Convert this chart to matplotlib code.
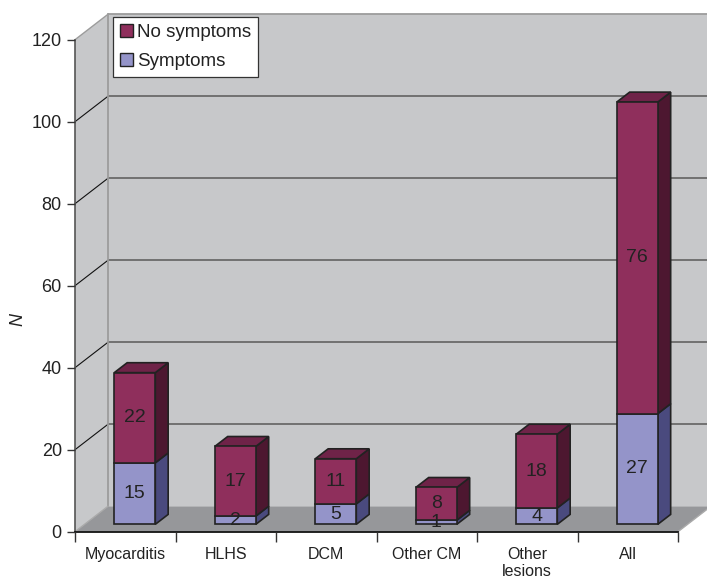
import matplotlib
matplotlib.use("Agg")
import matplotlib.pyplot as plt
from matplotlib.patches import Polygon, Patch
import numpy as np

plt.rcParams['font.family'] = ['Liberation Sans', 'DejaVu Sans']

categories = ["Myocarditis", "HLHS", "DCM", "Other CM", "Other\nlesions", "All"]
symptoms = [15, 2, 5, 1, 4, 27]
no_symptoms = [22, 17, 11, 8, 18, 76]
y_ticks = [0, 20, 40, 60, 80, 100, 120]

# colours: front / side / top faces
sym_front, sym_side, sym_top = "#9494C9", "#4A4A7E", "#6C6CA6"
nos_front, nos_side, nos_top = "#8F2F5C", "#4D1730", "#6F2348"
wall_col, floor_col = "#C7C8CA", "#96979A"
edge_col = "#222222"

fig = plt.figure(figsize=(7.07, 5.81), dpi=100)
W, H = 707, 581
ax = fig.add_axes([75 / W, (H - 531.7) / H, 603 / W, 492 / H])
n = len(categories)
x0, x1 = -0.5, n - 0.5
ymax = 120
ax.set_xlim(x0, x1)
ax.set_ylim(0, ymax)
ax.patch.set_visible(False)

# depth of the 3-D box, in data units
DX, DY = 0.328, 6.2
f0, fd = 0.29, 0.39     # bar front offset and bar depth (fractions of box depth)
bw = 0.408              # bar width

def poly(pts, fc, ec="none", lw=0.0, z=0.5):
    p = Polygon(pts, closed=True, facecolor=fc, edgecolor=ec, linewidth=lw,
                zorder=z, clip_on=False, joinstyle="miter")
    ax.add_patch(p)
    return p

# walls and floor
poly([(x0 + DX, DY), (x1 + DX, DY), (x1 + DX, ymax + DY), (x0 + DX, ymax + DY)], wall_col, z=0.1)
poly([(x0, 0), (x0 + DX, DY), (x0 + DX, ymax + DY), (x0, ymax)], wall_col, z=0.1)
poly([(x0, 0), (x1, 0), (x1 + DX, DY), (x0 + DX, DY)], floor_col, z=0.2)

# gridlines on back and side walls
for yv in y_ticks:
    if yv == 0:
        continue
    top = yv == ymax
    ax.plot([x0 + DX, x1 + DX], [yv + DY, yv + DY], color="#9C9C9C" if top else "#6A6A6A",
            lw=1.3, zorder=0.3, clip_on=False, solid_capstyle="butt")
    ax.plot([x0, x0 + DX], [yv, yv + DY], color="#9C9C9C" if top else "#111111",
            lw=1.0 if top else 0.8, zorder=0.3, clip_on=False)
ax.plot([x0 + DX, x0 + DX], [DY, ymax + DY], color="#9C9C9C", lw=1.3, zorder=0.3, clip_on=False)
ax.plot([x0, x0 + DX], [0, DY], color="#AAAAAA", lw=1.0, zorder=0.3, clip_on=False)
ax.plot([x1, x1 + DX], [0, DY], color="#AAAAAA", lw=1.0, zorder=0.3, clip_on=False)

# stacked bars: front faces via ax.bar, side and top faces as polygons
xs = np.arange(n) + f0 * DX
base = f0 * DY
sym = np.array(symptoms, float)
nos = np.array(no_symptoms, float)
ax.bar(xs, sym, width=bw, bottom=base, color=sym_front, edgecolor=edge_col, lw=1.2, zorder=3)
ax.bar(xs, nos, width=bw, bottom=base + sym, color=nos_front, edgecolor=edge_col, lw=1.2, zorder=3)

ddx, ddy = fd * DX, fd * DY
for i in range(n):
    xl, xr = xs[i] - bw / 2, xs[i] + bw / 2
    segs = [(base, base + sym[i], sym_side), (base + sym[i], base + sym[i] + nos[i], nos_side)]
    for ya, yb, c in segs:
        poly([(xr, ya), (xr + ddx, ya + ddy), (xr + ddx, yb + ddy), (xr, yb)], c,
             ec=edge_col, lw=1.2, z=2.9)
    yt = base + sym[i] + nos[i]
    poly([(xl, yt), (xr, yt), (xr + ddx, yt + ddy), (xl + ddx, yt + ddy)], nos_top,
         ec=edge_col, lw=1.2, z=2.9)
    ax.text(xs[i], base + sym[i] / 2, f"{symptoms[i]}", ha="center", va="center",
            fontsize=14, color="#222222", zorder=5)
    ax.text(xs[i], base + sym[i] + nos[i] / 2, f"{no_symptoms[i]}", ha="center", va="center",
            fontsize=14, color="#222222", zorder=5)

# axes
for s in ["top", "right"]:
    ax.spines[s].set_visible(False)
ax.spines["left"].set_color("#555555")
ax.spines["left"].set_linewidth(1.2)
ax.spines["bottom"].set_color("#111111")
ax.spines["bottom"].set_linewidth(1.3)
ax.spines["left"].set_zorder(0.4)
ax.spines["bottom"].set_zorder(0.4)

ax.set_yticks(y_ticks)
ax.set_yticklabels([str(v) for v in y_ticks])
ax.tick_params(axis="y", direction="out", length=6, width=1.0, color="#333333",
               labelsize=13, pad=3.5, labelcolor="#222222")

ax.set_xticks(np.arange(n + 1) - 0.5)
ax.set_xticklabels([])
ax.tick_params(axis="x", which="major", direction="out", length=7, width=1.0, color="#333333")
ax.set_xticks(np.arange(n), minor=True)
ax.set_xticklabels(categories, minor=True, fontsize=11.5, color="#222222", linespacing=1.2)
ax.tick_params(axis="x", which="minor", length=0, pad=11)

ax.set_ylabel("N", fontsize=13, style="italic", color="#222222")
ax.yaxis.set_label_coords(-0.08, 0.432)

handles = [Patch(facecolor=nos_front, edgecolor="#222222", lw=1.0, label="No symptoms"),
           Patch(facecolor=sym_front, edgecolor="#222222", lw=1.0, label="Symptoms")]
leg = fig.legend(handles=handles, loc="upper left", bbox_to_anchor=(113 / W, 1 - 17 / H),
                 frameon=True, fancybox=False, fontsize=13.5, handlelength=0.7, handleheight=0.7,
                 handletextpad=0.25, borderpad=0.35, labelspacing=0.65, borderaxespad=0,
                 edgecolor="#333333", framealpha=1)
leg.get_frame().set_linewidth(0.9)
for t in leg.get_texts():
    t.set_color("#222222")

fig.savefig("out.png", dpi=100, facecolor="white")
